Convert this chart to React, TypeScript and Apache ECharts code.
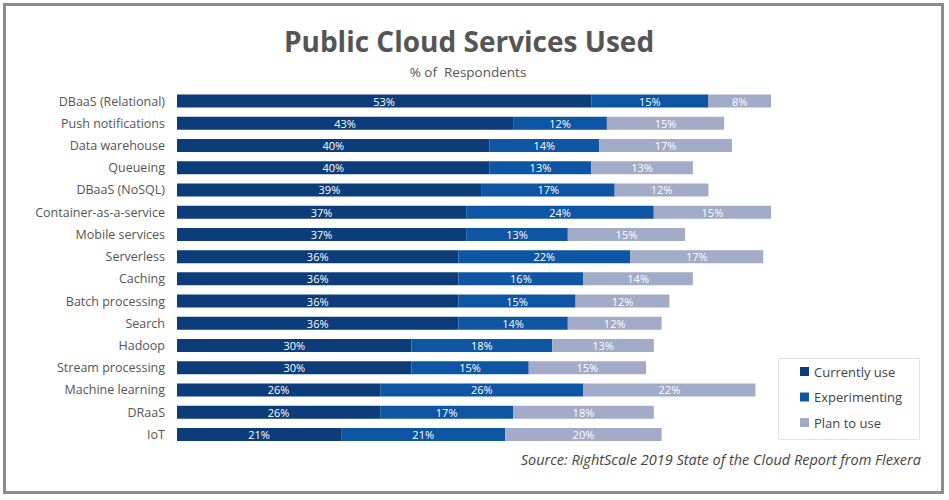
import React, { useEffect, useRef } from "react";
import * as echarts from "echarts";

const categories = [
  "DBaaS (Relational)",
  "Push notifications",
  "Data warehouse",
  "Queueing",
  "DBaaS (NoSQL)",
  "Container-as-a-service",
  "Mobile services",
  "Serverless",
  "Caching",
  "Batch processing",
  "Search",
  "Hadoop",
  "Stream processing",
  "Machine learning",
  "DRaaS",
  "IoT",
];
const currentlyUse = [53, 43, 40, 40, 39, 37, 37, 36, 36, 36, 36, 30, 30, 26, 26, 21];
const experimenting = [15, 12, 14, 13, 17, 24, 13, 22, 16, 15, 14, 18, 15, 26, 17, 21];
const planToUse = [8, 15, 17, 13, 12, 15, 15, 17, 14, 12, 12, 13, 15, 22, 18, 20];
const seriesNames = ["Currently use", "Experimenting", "Plan to use"];
const colors = ["#0c3c7a", "#0e55a4", "#a2abc8"];

const FONT = "'Open Sans', 'Noto Sans', sans-serif";

export default function App() {
  const ref = useRef<HTMLDivElement>(null);
  useEffect(() => {
    if (!ref.current) return;
    const chart = echarts.init(ref.current, null, { renderer: "svg" });
    const dataSets = [currentlyUse, experimenting, planToUse];
    chart.setOption({
      animation: false,
      backgroundColor: "#ffffff",
      textStyle: { fontFamily: FONT },
      title: [
        {
          text: "Public Cloud Services Used",
          left: 464,
          textAlign: "center",
          top: 22,
          textStyle: { fontSize: 28, fontWeight: "bold", color: "#555555", fontFamily: "'Open Sans', sans-serif" },
        },
        {
          text: "% of  Respondents",
          left: 463,
          textAlign: "center",
          top: 60,
          textStyle: { fontSize: 13.5, fontWeight: "normal", color: "#555555", fontFamily: FONT },
        },
      ],
      legend: {
        orient: "vertical",
        left: 795,
        top: 360,
        itemWidth: 9,
        itemHeight: 9,
        itemGap: 12.5,
        icon: "rect",
        data: seriesNames,
        textStyle: { fontSize: 13, color: "#444444", fontFamily: FONT },
      },
      grid: { left: 177, top: 90, width: 625.3, height: 355.5, containLabel: false },
      xAxis: {
        type: "value",
        min: 0,
        max: 80,
        show: false,
      },
      yAxis: {
        type: "category",
        data: categories,
        inverse: true,
        axisLine: { show: false },
        axisTick: { show: false },
        axisLabel: { fontSize: 12.5, color: "#555555", margin: 12, fontFamily: FONT },
      },
      graphic: [
        {
          type: "rect",
          shape: { x: 4.5, y: 4.5, width: 938, height: 488 },
          style: { fill: "none", stroke: "#8c8c8c", lineWidth: 3 },
          silent: true,
        },
        {
          type: "rect",
          shape: { x: 778.5, y: 358.5, width: 141, height: 81 },
          style: { fill: "none", stroke: "#e2e2e2", lineWidth: 1 },
          silent: true,
        },
        {
          type: "text",
          right: 28,
          top: 452,
          style: {
            text: "Source: RightScale 2019 State of the Cloud Report from Flexera",
            fontSize: 14.5,
            fontStyle: "italic",
            fill: "#444444",
            fontFamily: FONT,
          },
        },
      ],
      series: seriesNames.map((name, i) => ({
        name,
        type: "bar",
        stack: "total",
        barWidth: 13,
        itemStyle: { color: colors[i] },
        label: {
          show: true,
          position: "inside",
          formatter: (p: any) => p.value + "%",
          color: "#ffffff",
          fontSize: 11,
          fontFamily: FONT,
        },
        data: dataSets[i],
      })),
    });
    return () => chart.dispose();
  }, []);
  return (
    <div
      ref={ref}
      style={{ position: "fixed", left: 0, top: 0, width: 949, height: 500 }}
    />
  );
}
